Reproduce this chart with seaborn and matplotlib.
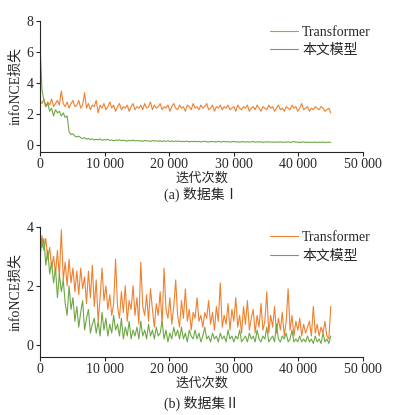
import numpy as np
import pandas as pd
import matplotlib
matplotlib.use("Agg")
import matplotlib.pyplot as plt
import seaborn as sns

sns.set_style("ticks")
plt.rcParams['font.family'] = ['Liberation Serif', 'Noto Sans CJK SC']
plt.rcParams['axes.unicode_minus'] = False

# data (loss every ~300 iterations, 0..45000)
trans_a = [2.9, 2.7, 3.0, 2.5, 2.8, 2.6, 3.0, 2.5, 2.7, 2.9,
           2.6, 3.5, 2.7, 2.5, 2.8, 2.4, 2.7, 2.9, 2.5, 2.6,
           2.9, 2.4, 2.6, 3.4, 2.4, 2.7, 2.3, 2.6, 2.5, 2.9,
           2.1, 2.6, 2.4, 2.7, 2.3, 2.5, 2.8, 2.4, 2.6, 2.2,
           2.5, 2.7, 2.3, 2.5, 2.4, 2.6, 2.2, 2.5, 2.7, 2.3,
           2.5, 2.4, 2.6, 2.3, 2.7, 2.4, 2.5, 2.8, 2.3, 2.6,
           2.4, 2.5, 2.7, 2.3, 2.5, 2.4, 2.6, 2.2, 2.5, 2.7,
           2.4, 2.3, 2.6, 2.4, 2.5, 2.2, 2.6, 2.5, 2.3, 2.7,
           2.4, 2.5, 2.3, 2.6, 2.4, 2.5, 2.7, 2.3, 2.4, 2.6,
           2.2, 2.5, 2.4, 2.6, 2.3, 2.5, 2.4, 2.6, 2.3, 2.4,
           2.5, 2.2, 2.6, 2.4, 2.3, 2.5, 2.4, 2.6, 2.2, 2.4,
           2.5, 2.3, 2.6, 2.4, 2.2, 2.5, 2.4, 2.3, 2.6, 2.4,
           2.5, 2.2, 2.4, 2.6, 2.3, 2.4, 2.2, 2.5, 2.4, 2.3,
           2.6, 2.4, 2.5, 2.2, 2.4, 2.7, 2.3, 2.4, 2.5, 2.2,
           2.4, 2.3, 2.5, 2.4, 2.3, 2.5, 2.4, 2.2, 2.3, 2.4, 2.1]

ours_a = [6.6, 3.6, 2.9, 2.5, 2.7, 2.2, 2.4, 1.9, 2.3, 2.1,
          2.2, 1.9, 2.1, 1.8, 1.9, 0.9, 0.7, 0.75, 0.6, 0.55,
          0.6, 0.5, 0.45, 0.5, 0.4, 0.45, 0.38, 0.42, 0.35, 0.4,
          0.36, 0.42, 0.33, 0.38, 0.35, 0.4, 0.32, 0.36, 0.3, 0.35,
          0.32, 0.37, 0.3, 0.34, 0.31, 0.28, 0.33, 0.3, 0.35, 0.29,
          0.32, 0.28, 0.31, 0.27, 0.33, 0.29, 0.3, 0.26, 0.32, 0.28,
          0.3, 0.27, 0.31, 0.25, 0.29, 0.27, 0.3, 0.26, 0.28, 0.25,
          0.29, 0.26, 0.28, 0.24, 0.27, 0.25, 0.28, 0.23, 0.26, 0.25,
          0.27, 0.24, 0.26, 0.23, 0.25, 0.27, 0.24, 0.22, 0.26, 0.24,
          0.25, 0.23, 0.27, 0.22, 0.24, 0.26, 0.23, 0.25, 0.22, 0.24,
          0.26, 0.22, 0.24, 0.21, 0.25, 0.23, 0.22, 0.24, 0.21, 0.23,
          0.25, 0.21, 0.23, 0.22, 0.24, 0.2, 0.23, 0.22, 0.24, 0.21,
          0.22, 0.2, 0.23, 0.21, 0.24, 0.2, 0.22, 0.21, 0.23, 0.2,
          0.22, 0.26, 0.2, 0.22, 0.19, 0.21, 0.23, 0.2, 0.22, 0.19,
          0.21, 0.2, 0.22, 0.19, 0.21, 0.2, 0.22, 0.19, 0.2, 0.21, 0.2]

trans_b = [2.8, 3.7, 3.2, 3.6, 2.9, 3.3, 2.6, 3.0, 2.4, 3.2,
           2.3, 3.9, 2.2, 2.8, 2.0, 2.9, 2.1, 2.6, 1.8, 2.5,
           1.7, 2.6, 1.9, 2.3, 1.4, 2.5, 1.6, 2.7, 1.3, 2.2,
           0.8, 1.6, 2.6, 1.5, 2.0, 1.2, 1.7, 1.0, 1.4, 2.9,
           1.3, 0.9, 1.8, 1.1, 2.0, 0.8, 1.5, 1.2, 2.0, 1.0,
           1.6, 0.7, 2.8, 1.3, 1.0, 1.7, 0.8, 1.9, 1.2, 0.6,
           1.4, 1.0, 1.8, 0.7, 2.6, 1.2, 0.9, 1.6, 0.7, 1.3,
           2.2, 1.0, 0.6, 1.5, 0.9, 1.9, 0.8, 1.2, 0.5, 1.1,
           0.9, 1.6, 0.8, 1.0, 0.6, 1.1, 0.9, 1.5, 0.7, 1.1,
           0.5, 1.3, 0.8, 2.1, 0.6, 1.0, 0.7, 1.4, 0.5, 1.2,
           0.8, 1.6, 0.6, 1.0, 0.4, 1.3, 0.7, 1.5, 0.5, 0.9,
           1.2, 0.4, 1.0, 0.6, 1.4, 0.5, 0.8, 1.8, 0.4, 1.0,
           0.6, 1.3, 0.4, 0.9, 0.5, 1.1, 0.3, 0.8, 1.9, 0.5,
           1.0, 0.3, 0.8, 0.5, 0.9, 0.3, 0.7, 0.4, 0.6, 0.8,
           0.3, 1.3, 0.4, 0.7, 0.3, 0.6, 0.4, 0.8, 0.3, 0.2, 1.3]

ours_b = [3.8, 3.3, 3.6, 2.7, 3.2, 2.4, 2.8, 2.1, 2.6, 1.6,
          2.4, 1.8, 2.2, 1.4, 1.0, 2.0, 1.2, 1.6, 0.8, 1.3,
          0.6, 1.1, 1.5, 0.5, 0.9, 1.2, 0.4, 0.7, 0.9, 0.4,
          0.8, 0.3, 1.1, 0.5, 0.9, 0.3, 0.7, 0.4, 1.0, 0.5,
          0.7, 0.3, 0.9, 0.2, 0.6, 0.3, 0.8, 0.2, 0.5, 0.3,
          0.6, 0.2, 0.8, 0.3, 0.5, 0.2, 0.7, 0.3, 0.5, 0.2,
          0.6, 0.3, 0.4, 0.8, 0.2, 0.5, 0.1, 0.4, 0.2, 0.6,
          0.3, 0.5, 0.2, 0.6, 0.2, 0.4, 0.1, 0.5, 0.3, 0.2,
          0.5, 0.2, 0.4, 0.1, 0.3, 0.6, 0.2, 0.3, 0.1, 0.4,
          0.2, 0.3, 0.1, 0.4, 0.2, 0.3, 0.1, 0.5, 0.2, 0.3,
          0.1, 0.3, 0.2, 0.5, 0.1, 0.2, 0.3, 0.1, 0.4, 0.2,
          0.3, 0.1, 0.5, 0.2, 0.1, 0.3, 0.2, 0.6, 0.1, 0.2,
          0.3, 0.1, 0.7, 0.2, 0.1, 0.3, 0.2, 0.4, 0.1, 0.2,
          0.5, 0.1, 0.2, 0.1, 0.3, 0.1, 0.2, 0.1, 0.3, 0.1,
          0.2, 0.05, 0.3, 0.1, 0.2, 0.05, 0.4, 0.1, 0.2, 0.05, 0.3]

last_iter = 45000
xticks = [0, 10000, 20000, 30000, 40000, 50000]
xtick_labels = ['0', '10 000', '20 000', '30 000', '40 000', '50 000']
names = ['Transformer', '本文模型']
colors = ['#F0802E', '#6EA845']


def make_df(series_list):
    frames = []
    for name, vals in zip(names, series_list):
        frames.append(pd.DataFrame({
            'iter': np.linspace(0, last_iter, len(vals)),
            'loss': vals,
            'model': name}))
    return pd.concat(frames, ignore_index=True)


fig = plt.figure(figsize=(3.94, 4.15), dpi=100)
ax1 = fig.add_axes([0.1015, 0.6345, 0.82, 0.3145])
ax2 = fig.add_axes([0.1015, 0.1405, 0.82, 0.313])

panels = [(ax1, make_df([trans_a, ours_a]), (-0.4, 8), [0, 2, 4, 6, 8], '(a) 数据集Ⅰ', -0.325),
          (ax2, make_df([trans_b, ours_b]), (-0.4, 4), [0, 2, 4], '(b) 数据集Ⅱ', -0.36)]

for ax, df, ylim, yticks, caption, cap_y in panels:
    sns.lineplot(data=df, x='iter', y='loss', hue='model', palette=colors,
                 linewidth=0.8, ax=ax, estimator=None)
    ax.set_xlim(0, 50000)
    ax.set_ylim(*ylim)
    ax.set_xticks(xticks)
    ax.set_xticklabels(xtick_labels)
    ax.set_yticks(yticks)
    ax.tick_params(labelsize=10, length=3, width=0.8, pad=1.5)
    for s in ['top', 'right']:
        ax.spines[s].set_visible(False)
    for s in ['left', 'bottom']:
        ax.spines[s].set_linewidth(0.8)
    ax.set_xlabel('迭代次数', fontsize=9.5, labelpad=1)
    ax.set_ylabel('infoNCE损失', fontsize=10, labelpad=3)
    ax.text(0.5, cap_y, caption, transform=ax.transAxes, ha='center', va='center', fontsize=10)
    ax.legend(loc='upper right', bbox_to_anchor=(1.05, 1.03), frameon=False,
              fontsize=10, handlelength=2.0, handletextpad=0.3,
              labelspacing=0.35, borderaxespad=0.2)

fig.savefig('out.png', dpi=100)
